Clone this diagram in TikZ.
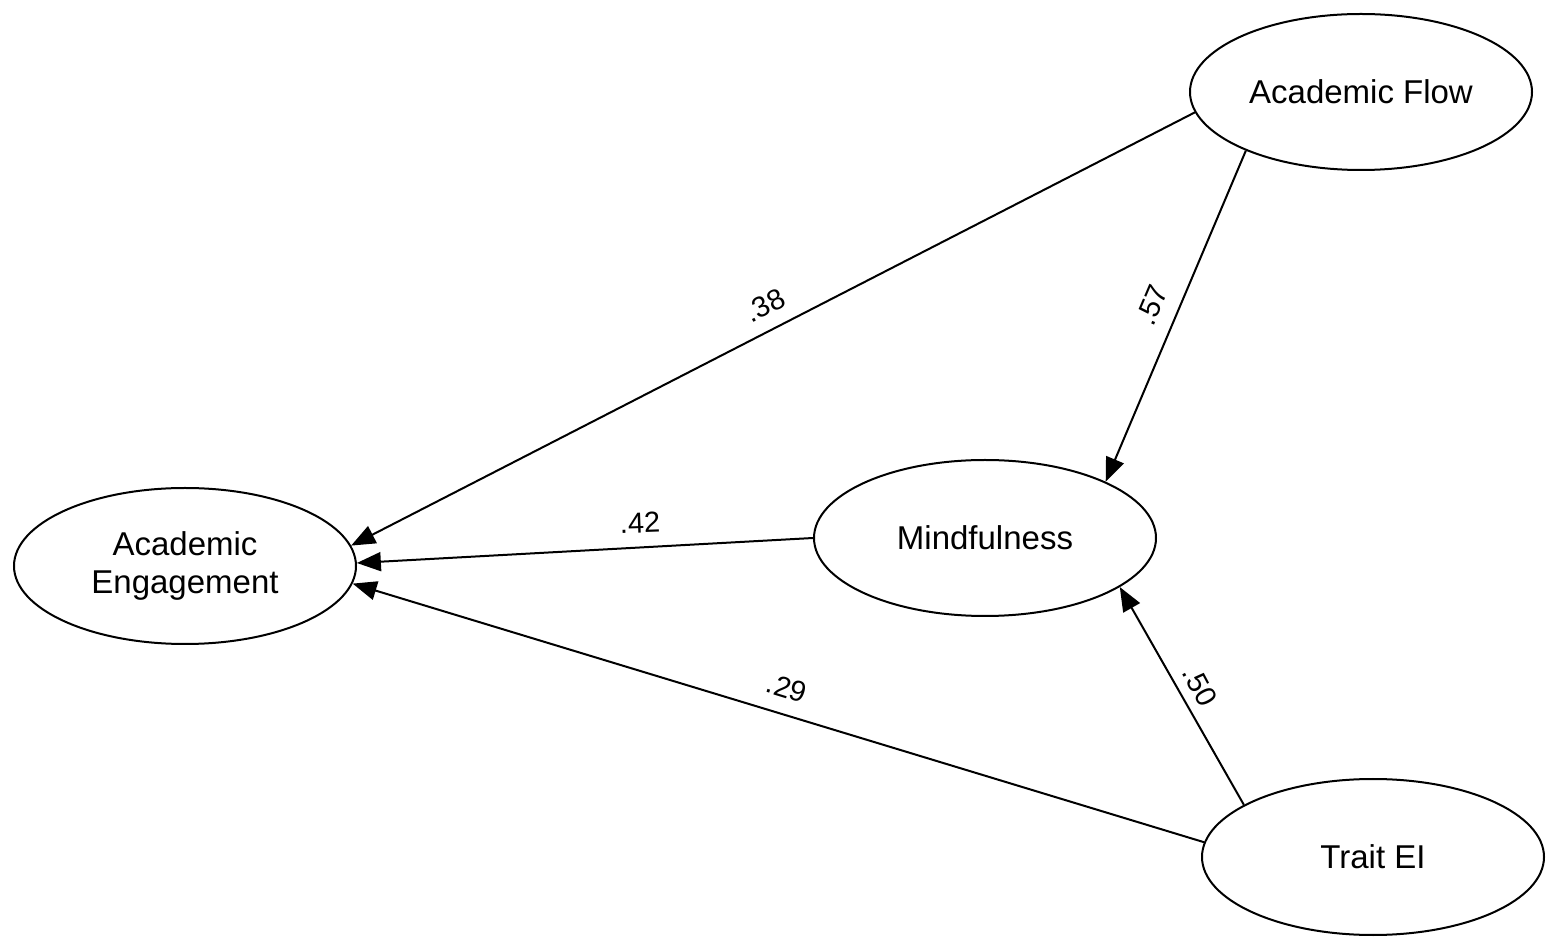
\documentclass[tikz,border=0pt]{standalone}
\usepackage{fontspec}
\setmainfont{Liberation Sans}
\usetikzlibrary{shapes.geometric,arrows.meta}
\begin{document}
\begin{tikzpicture}[x=0.5pt,y=-0.5pt,
  lat/.style={ellipse,draw,line width=1pt,minimum width=171pt,minimum height=78pt,inner sep=0pt,font=\fontsize{16.5}{19}\selectfont,align=center},
  path/.style={line width=1pt,-{Triangle[length=12pt,width=9.5pt]}},
  lab/.style={font=\fontsize{14.5}{17}\selectfont}]
\useasboundingbox (0,0) rectangle (1559,951);
\node[lat] (af) at (1361,92) {Academic Flow};
\node[lat] (ae) at (185,566) {Academic\\Engagement};
\node[lat] (m) at (985,538) {Mindfulness};
\node[lat] (te) at (1373,857) {Trait EI};
\draw[path] (af.187.7) -- (ae.7);
\draw[path] (af.207) -- (m.25);
\draw[path] (m.180) -- (ae.1);
\draw[path] (te.175) -- (ae.-6);
\draw[path] (te.158) -- (m.-20);
\node[lab,rotate=27] (l1) at (765,305) {.38};
\node[lab,rotate=67] (l2) at (1152,305) {.57};
\node[lab,rotate=2] (l3) at (640,523) {.42};
\node[lab,rotate=-17] (l4) at (787,688) {.29};
\node[lab,rotate=-62] (l5) at (1200,686) {.50};
\end{tikzpicture}
\end{document}
